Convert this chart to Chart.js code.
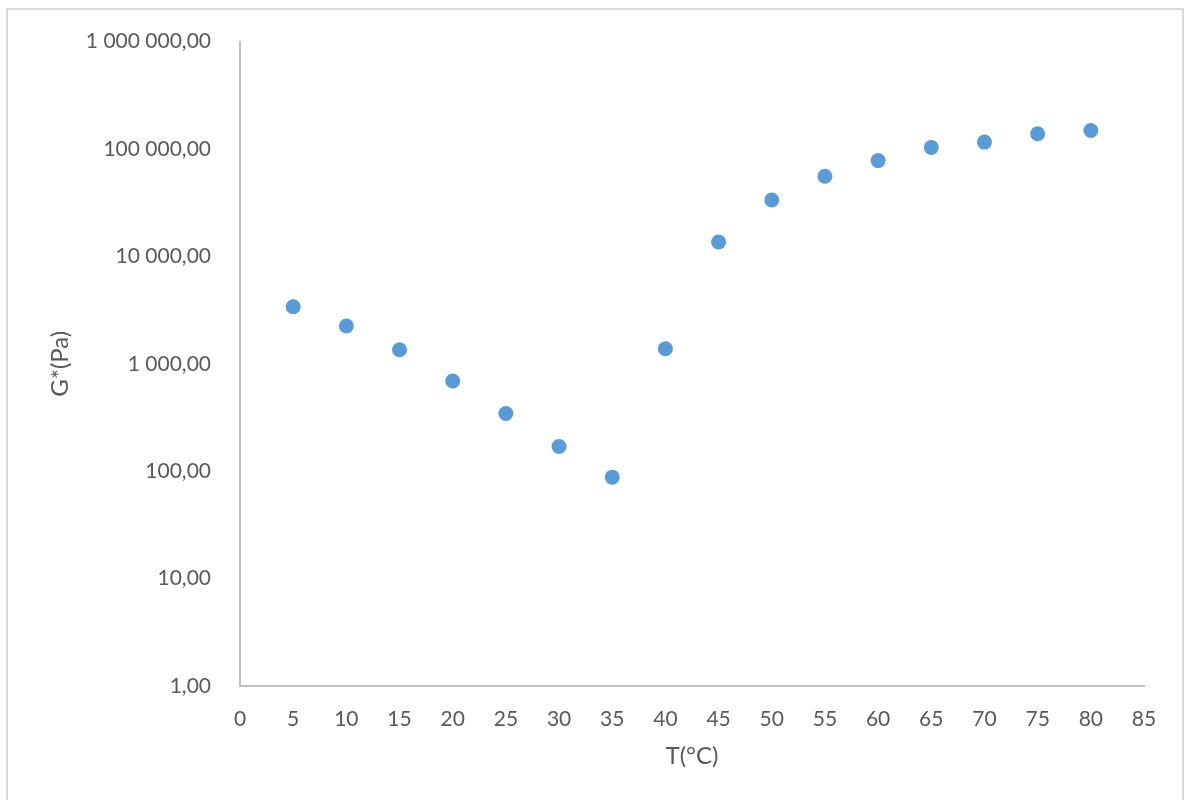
<!DOCTYPE html>
<html>
<head>
<meta charset="utf-8">
<title>G* vs T</title>
<script src="https://cdn.jsdelivr.net/npm/chart.js@4.4.1/dist/chart.umd.min.js"></script>
<style>
  html, body { margin: 0; padding: 0; background: #ffffff; }
  #wrap { position: relative; width: 1188px; height: 800px; overflow: hidden; }
  #frame {
    position: absolute; left: 6px; top: 8px; width: 1178px; height: 820px;
    border: 2px solid #d9d9d9; box-sizing: border-box;
  }
  #chart { position: absolute; left: 0; top: 0; }
</style>
</head>
<body>
<div id="wrap">
  <div id="frame"></div>
  <canvas id="chart" width="1188" height="800"></canvas>
</div>
<script>
// Temperature (°C) and complex modulus G* (Pa)
const temperatures = [5, 10, 15, 20, 25, 30, 35, 40, 45, 50, 55, 60, 65, 70, 75, 80];
const gStar = [3400, 2250, 1350, 692, 345, 170, 88, 1380, 13600, 33500, 55800, 78000, 103500, 116000, 138700, 148600];

// Axis ticks
const xTicks = [0, 5, 10, 15, 20, 25, 30, 35, 40, 45, 50, 55, 60, 65, 70, 75, 80, 85];
const yTicks = [1, 10, 100, 1000, 10000, 100000, 1000000];

const xTitle = 'T(°C)';
const yTitle = 'G*(Pa)';

// "1 000 000,00" style: space-grouped thousands, comma decimals
function formatValue(v) {
  const parts = Number(v).toFixed(2).split('.');
  const intPart = parts[0].replace(/\B(?=(\d{3})+(?!\d))/g, ' ');
  return intPart + ',' + parts[1];
}

const points = temperatures.map((t, i) => ({ x: t, y: gStar[i] }));

const FONT = 'Lato, "Open Sans", sans-serif';
const TEXT = '#595959';
const AXIS = '#bfbfbf';

new Chart(document.getElementById('chart'), {
  type: 'scatter',
  data: {
    datasets: [{
      data: points,
      backgroundColor: '#5b9bd5',
      borderColor: '#5b9bd5',
      borderWidth: 0,
      pointRadius: 7.5,
      pointHoverRadius: 7.5
    }]
  },
  options: {
    responsive: false,
    animation: false,
    events: [],
    layout: { padding: { top: 37.5, right: 44, left: 0, bottom: 0 } },
    plugins: { legend: { display: false }, tooltip: { enabled: false } },
    scales: {
      x: {
        type: 'linear',
        min: xTicks[0],
        max: xTicks[xTicks.length - 1],
        afterBuildTicks: (scale) => { scale.ticks = xTicks.map(v => ({ value: v })); },
        afterFit: (scale) => { scale.height = 114; },
        grid: { display: false, drawTicks: false },
        border: { display: true, color: AXIS, width: 2 },
        ticks: {
          color: TEXT,
          font: { family: FONT, size: 21 },
          padding: 21,
          maxRotation: 0,
          autoSkip: false
        },
        title: {
          display: true,
          text: xTitle,
          color: TEXT,
          font: { family: FONT, size: 24 },
          padding: { top: 0, bottom: 29 }
        }
      },
      y: {
        type: 'logarithmic',
        min: yTicks[0],
        max: yTicks[yTicks.length - 1],
        afterBuildTicks: (scale) => { scale.ticks = yTicks.map(v => ({ value: v, major: true })); },
        afterFit: (scale) => { scale.width = 240; },
        grid: { display: false, drawTicks: false },
        border: { display: true, color: AXIS, width: 2 },
        ticks: {
          color: TEXT,
          font: { family: FONT, size: 21 },
          padding: 29,
          autoSkip: false,
          callback: (v) => formatValue(v)
        },
        title: {
          display: true,
          text: yTitle,
          color: TEXT,
          font: { family: FONT, size: 24 },
          padding: { top: 46, bottom: 0 }
        }
      }
    }
  }
});
</script>
</body>
</html>
